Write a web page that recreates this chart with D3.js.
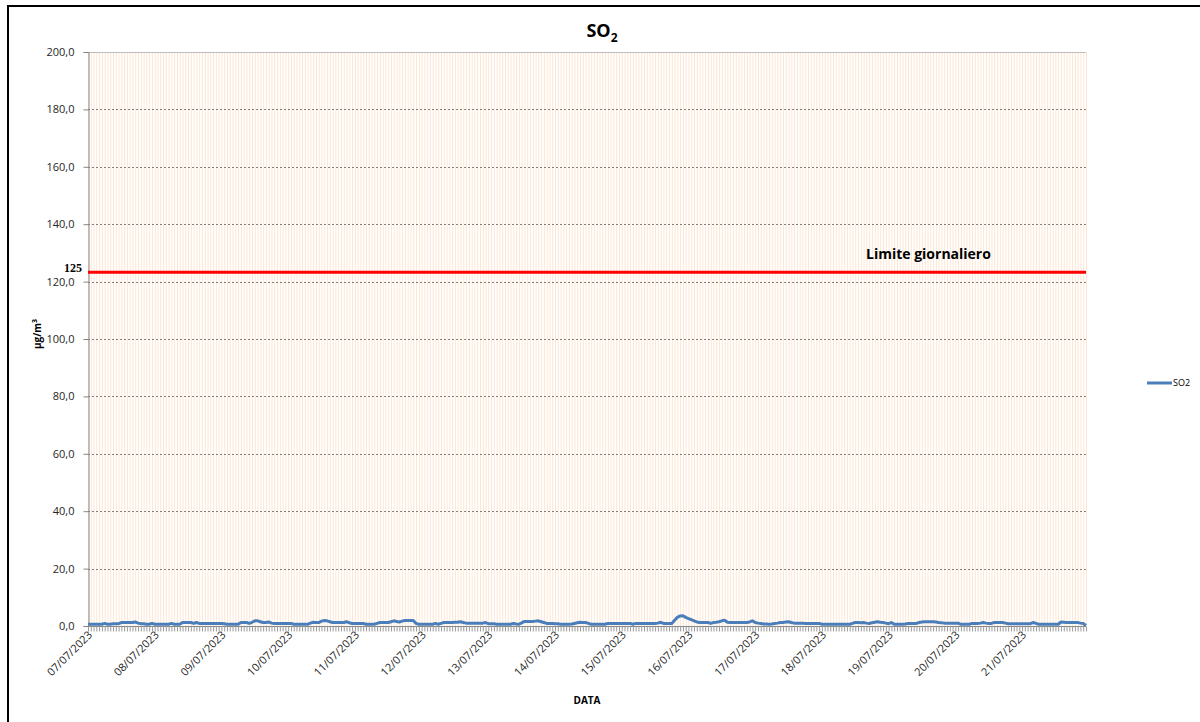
<!DOCTYPE html>
<html>
<head>
<meta charset="utf-8">
<script src="https://cdn.jsdelivr.net/npm/d3@7"></script>
<style>
  html, body { margin: 0; padding: 0; background: #fff; }
  svg { display: block; font-family: "Open Sans", "Liberation Sans", sans-serif; }
</style>
</head>
<body>
<svg id="chart" width="1200" height="722"></svg>
<script>
// ---- data ----
const days = ["07/07/2023","08/07/2023","09/07/2023","10/07/2023","11/07/2023","12/07/2023","13/07/2023",
              "14/07/2023","15/07/2023","16/07/2023","17/07/2023","18/07/2023","19/07/2023","20/07/2023","21/07/2023"];
const yTicks = [0, 20, 40, 60, 80, 100, 120, 140, 160, 180, 200];
const limitValue = 123.3;      // position of the red line as drawn
const limitLabel = "125";
const limitText = "Limite giornaliero";
const seriesName = "SO2";
// hourly SO2 values (µg/m³), 24 per day
const so2 = [
  0.6,0.6,0.6,0.6,0.6,0.6,0.9,0.6,0.6,0.8,0.8,0.8,1.2,1.2,1.2,1.2,1.2,1.4,1.0,0.8,0.8,0.6,0.6,0.9,
  0.6,0.6,0.6,0.6,0.6,0.6,0.9,0.6,0.6,0.6,1.2,1.2,1.2,1.2,0.9,1.2,0.9,0.9,0.9,0.9,0.9,0.9,0.9,0.9,
  0.9,0.8,0.6,0.6,0.6,0.6,0.6,1.2,1.2,1.2,0.9,1.3,1.8,1.8,1.5,1.2,1.2,1.4,1.0,0.9,0.9,0.9,0.9,0.9,
  0.9,0.9,0.6,0.6,0.6,0.6,0.6,0.6,1.0,1.3,1.2,1.2,1.7,1.9,1.8,1.5,1.2,1.2,1.2,1.2,1.2,1.5,1.1,0.9,
  0.9,0.9,0.9,0.9,0.6,0.6,0.6,0.6,0.9,1.2,1.2,1.2,1.2,1.5,1.8,1.6,1.4,1.7,1.9,1.9,1.9,1.9,0.9,0.6,
  0.6,0.6,0.6,0.6,0.6,0.9,0.6,0.9,1.2,1.2,1.2,1.2,1.3,1.3,1.5,1.2,1.0,1.0,1.0,1.0,1.0,1.0,1.0,1.2,
  0.8,0.8,0.8,0.6,0.6,0.6,0.6,0.6,0.6,0.9,0.7,0.6,1.1,1.6,1.6,1.6,1.6,1.7,1.8,1.5,1.2,0.9,0.9,0.9,
  0.8,0.8,0.6,0.6,0.6,0.6,0.7,0.9,1.1,1.3,1.2,1.2,0.9,0.6,0.6,0.6,0.6,0.6,0.6,0.9,0.9,0.9,0.9,0.9,
  0.9,0.9,0.9,0.9,0.6,0.9,0.9,0.9,0.9,0.9,0.9,0.9,0.9,1.0,1.3,0.9,0.9,0.9,0.9,2.0,3.0,3.5,3.6,3.0,
  2.6,2.2,1.8,1.4,1.2,1.2,1.2,1.2,0.9,1.2,1.3,1.5,1.8,2.0,1.3,1.2,1.2,1.2,1.2,1.2,1.2,1.2,1.4,1.8,
  1.2,1.0,0.9,0.7,0.7,0.6,0.7,0.9,1.0,1.2,1.2,1.4,1.5,1.2,1.0,1.0,1.0,1.0,0.9,0.9,0.9,0.9,0.9,0.9,
  0.6,0.6,0.6,0.6,0.6,0.6,0.6,0.6,0.6,0.6,0.6,0.9,1.2,1.2,1.1,1.2,1.0,0.9,1.1,1.3,1.5,1.3,1.2,1.0,
  0.8,1.2,0.6,0.6,0.6,0.6,0.7,0.9,0.9,0.9,0.9,1.2,1.4,1.5,1.5,1.5,1.5,1.4,1.2,1.1,1.0,1.0,1.0,1.0,
  1.0,1.0,0.6,0.6,0.6,0.6,0.9,0.9,0.9,1.0,1.2,1.0,0.9,0.9,1.2,1.2,1.2,1.2,1.0,0.8,0.8,0.8,0.8,0.8,
  0.8,0.8,0.8,0.8,1.2,0.9,0.6,0.6,0.6,0.6,0.6,0.6,0.6,0.6,1.4,1.3,1.2,1.2,1.2,1.2,1.2,1.0,0.9,0.2
];

// ---- layout ----
const svg = d3.select("#chart");
const pL = 88, pR = 1086, pT = 52, pB = 626;
const fmt = d => d3.format(".1f")(d).replace(".", ",");

const x = d3.scaleLinear().domain([0, so2.length - 1]).range([pL, pR]);
const y = d3.scaleLinear().domain([0, 200]).range([pB, pT]);

// outer frame (only top and left edges are visible in the reference)
svg.append("rect").attr("x", 8).attr("y", 6).attr("width", 1300).attr("height", 800)
  .attr("fill", "none").attr("stroke", "#000").attr("stroke-width", 2);

// hourly vertical grid (pale orange)
svg.append("g").selectAll("line").data(d3.range(so2.length)).join("line")
  .attr("x1", d => x(d) + 0.5).attr("x2", d => x(d) + 0.5)
  .attr("y1", pT).attr("y2", pB)
  .attr("stroke", "#fde6d3").attr("stroke-width", 1);

// horizontal grid
svg.append("g").selectAll("line").data(yTicks.filter(v => v > 0)).join("line")
  .attr("x1", pL).attr("x2", pR)
  .attr("y1", d => Math.round(y(d)) + 0.5).attr("y2", d => Math.round(y(d)) + 0.5)
  .attr("stroke", d => d === 200 ? "#bdbdbd" : "#7f7f7f")
  .attr("stroke-width", 1)
  .attr("stroke-dasharray", d => d === 200 ? null : "2,2");

// y axis
const yAxis = d3.axisLeft(y).tickValues(yTicks).tickFormat(fmt).tickSize(5).tickPadding(9);
const gy = svg.append("g").attr("transform", `translate(${pL + 0.5},0)`).call(yAxis);
gy.select(".domain").attr("stroke", "#868686");
gy.selectAll(".tick line").attr("stroke", "#868686");
gy.selectAll(".tick text").attr("font-size", 11).attr("fill", "#262626")
  .attr("font-family", "'Open Sans', sans-serif");

// x axis with hourly minor ticks
const gx = svg.append("g").attr("transform", `translate(0,${pB + 0.5})`);
gx.append("line").attr("x1", pL).attr("x2", pR).attr("stroke", "#868686");
gx.selectAll("line.minor").data(d3.range(so2.length)).join("line").attr("class", "minor")
  .attr("x1", d => x(d) + 0.5).attr("x2", d => x(d) + 0.5).attr("y1", 0).attr("y2", 5)
  .attr("stroke", "#9a9a9a");
gx.selectAll("text.day").data(days).join("text").attr("class", "day")
  .attr("transform", (d, i) => `translate(${x(i * 24) + 5},${9}) rotate(-45)`)
  .attr("text-anchor", "end").attr("font-size", 11).attr("fill", "#262626")
  .text(d => d);

// limit line
svg.append("line").attr("x1", pL).attr("x2", pR)
  .attr("y1", y(limitValue)).attr("y2", y(limitValue))
  .attr("stroke", "#ff0000").attr("stroke-width", 3);
svg.append("text").attr("x", 82).attr("y", y(limitValue))
  .attr("text-anchor", "end").attr("font-size", 12).attr("font-weight", "bold")
  .attr("font-family", "'Liberation Serif', serif").text(limitLabel);
svg.append("text").attr("x", 866).attr("y", 259)
  .attr("font-size", 14).attr("font-weight", "bold").attr("fill", "#000").text(limitText);

// series line
const line = d3.line().x((d, i) => x(i)).y(d => y(d));
svg.append("path").datum(so2).attr("d", line)
  .attr("fill", "none").attr("stroke", "#4a7ebb").attr("stroke-width", 3)
  .attr("stroke-linejoin", "round");

// title
const title = svg.append("text").attr("x", 602).attr("y", 37).attr("text-anchor", "middle")
  .attr("font-size", 18).attr("font-weight", "bold");
title.append("tspan").text("SO");
title.append("tspan").attr("dy", 5).attr("font-size", 12).text("2");

// axis titles
svg.append("text").attr("x", 587).attr("y", 704).attr("text-anchor", "middle")
  .attr("font-size", 10).attr("font-weight", "bold").text("DATA");
const yt = svg.append("text").attr("transform", "translate(41,334) rotate(-90)")
  .attr("text-anchor", "middle").attr("font-size", 10).attr("font-weight", "bold");
yt.append("tspan").text("µg/m");
yt.append("tspan").attr("dy", -4).attr("font-size", 7).text("3");

// legend
svg.append("line").attr("x1", 1147).attr("x2", 1172).attr("y1", 383).attr("y2", 383)
  .attr("stroke", "#4a7ebb").attr("stroke-width", 3);
svg.append("text").attr("x", 1173).attr("y", 386).attr("font-size", 9).attr("fill", "#000").text(seriesName);
</script>
</body>
</html>
